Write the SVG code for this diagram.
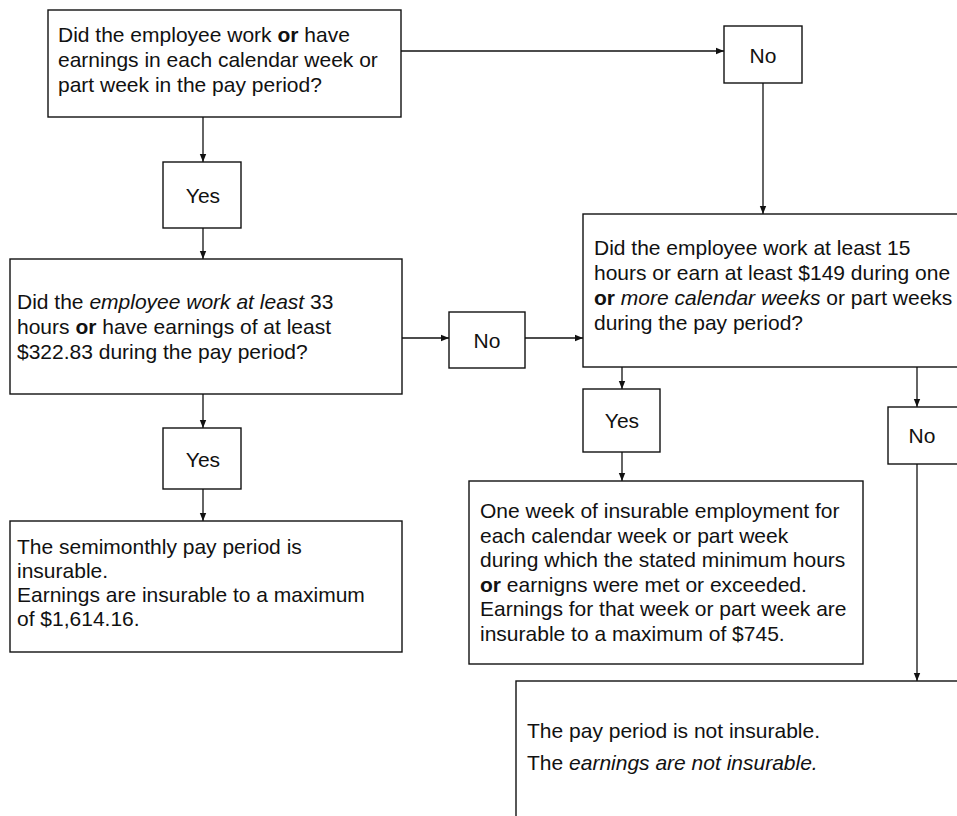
<svg xmlns="http://www.w3.org/2000/svg" width="957" height="816" viewBox="0 0 957 816">
<defs>
<marker id="ah" viewBox="0 0 8 8" refX="8" refY="4" markerWidth="8" markerHeight="8" markerUnits="userSpaceOnUse" orient="auto">
<path d="M0,0.8 L8,4 L0,7.2 Z" fill="#111"/>
</marker>
<style>
.box{fill:#fff;stroke:#111;stroke-width:1.4}
.t{font-family:"Liberation Sans",Arial,Helvetica,sans-serif;font-size:21px;fill:#111}
.c{text-anchor:middle}
.b{font-weight:bold}
.i{font-style:italic}
.ln{fill:none;stroke:#111;stroke-width:1.3;marker-end:url(#ah)}
</style>
</defs>
<rect width="957" height="816" fill="#fff"/>
<g id="connectors">
<path class="ln" d="M401,51 H724"/>
<path class="ln" d="M763,83 V214"/>
<path class="ln" d="M203,117 V162"/>
<path class="ln" d="M203,228 V259"/>
<path class="ln" d="M402,338 H449"/>
<path class="ln" d="M525,338 H583"/>
<path class="ln" d="M203,394 V428"/>
<path class="ln" d="M203,489 V521"/>
<path class="ln" d="M622,367 V389"/>
<path class="ln" d="M622,452 V481"/>
<path class="ln" d="M917,367 V407"/>
<path class="ln" d="M917,464 V681"/>
</g>
<g id="q1">
<rect class="box" x="48" y="10" width="353" height="107"/>
<text class="t" x="58" y="42">Did the employee work <tspan class="b">or</tspan> have</text>
<text class="t" x="58" y="67">earnings in each calendar week or</text>
<text class="t" x="58" y="92">part week in the pay period?</text>
</g>
<g id="no1">
<rect class="box" x="724" y="26" width="78" height="57"/>
<text class="t c" x="763" y="63">No</text>
</g>
<g id="yes1">
<rect class="box" x="163" y="162" width="78" height="66"/>
<text class="t c" x="203" y="203">Yes</text>
</g>
<g id="q2">
<rect class="box" x="10" y="259" width="392" height="135"/>
<text class="t" x="17" y="309">Did the <tspan class="i">employee work at least</tspan> 33</text>
<text class="t" x="17" y="334">hours <tspan class="b">or</tspan> have earnings of at least</text>
<text class="t" x="17" y="359">$322.83 during the pay period?</text>
</g>
<g id="no2">
<rect class="box" x="449" y="312" width="76" height="56"/>
<text class="t c" x="487" y="348">No</text>
</g>
<g id="q3">
<rect class="box" x="583" y="214" width="400" height="153"/>
<text class="t" x="594" y="255">Did the employee work at least 15</text>
<text class="t" x="594" y="280">hours or earn at least $149 during one</text>
<text class="t" x="594" y="305"><tspan class="b">or</tspan> <tspan class="i">more calendar weeks</tspan> or part weeks</text>
<text class="t" x="594" y="330">during the pay period?</text>
</g>
<g id="yes2">
<rect class="box" x="163" y="428" width="78" height="61"/>
<text class="t c" x="203" y="467">Yes</text>
</g>
<g id="r1">
<rect class="box" x="10" y="521" width="392" height="131"/>
<text class="t" x="17" y="554">The semimonthly pay period is</text>
<text class="t" x="17" y="578">insurable.</text>
<text class="t" x="17" y="602">Earnings are insurable to a maximum</text>
<text class="t" x="17" y="626">of $1,614.16.</text>
</g>
<g id="yes3">
<rect class="box" x="583" y="389" width="77" height="63"/>
<text class="t c" x="622" y="428">Yes</text>
</g>
<g id="no3">
<rect class="box" x="888" y="407" width="90" height="57"/>
<text class="t c" x="922" y="443">No</text>
</g>
<g id="r2">
<rect class="box" x="469" y="481" width="394" height="183"/>
<text class="t" x="480" y="518">One week of insurable employment for</text>
<text class="t" x="480" y="543">each calendar week or part week</text>
<text class="t" x="480" y="567">during which the stated minimum hours</text>
<text class="t" x="480" y="592"><tspan class="b">or</tspan> earnigns were met or exceeded.</text>
<text class="t" x="480" y="616">Earnings for that week or part week are</text>
<text class="t" x="480" y="641">insurable to a maximum of $745.</text>
</g>
<g id="r3">
<rect class="box" x="516" y="681" width="480" height="180"/>
<text class="t" x="527" y="738">The pay period is not insurable.</text>
<text class="t" x="527" y="770">The <tspan class="i">earnings are not insurable.</tspan></text>
</g>
</svg>
